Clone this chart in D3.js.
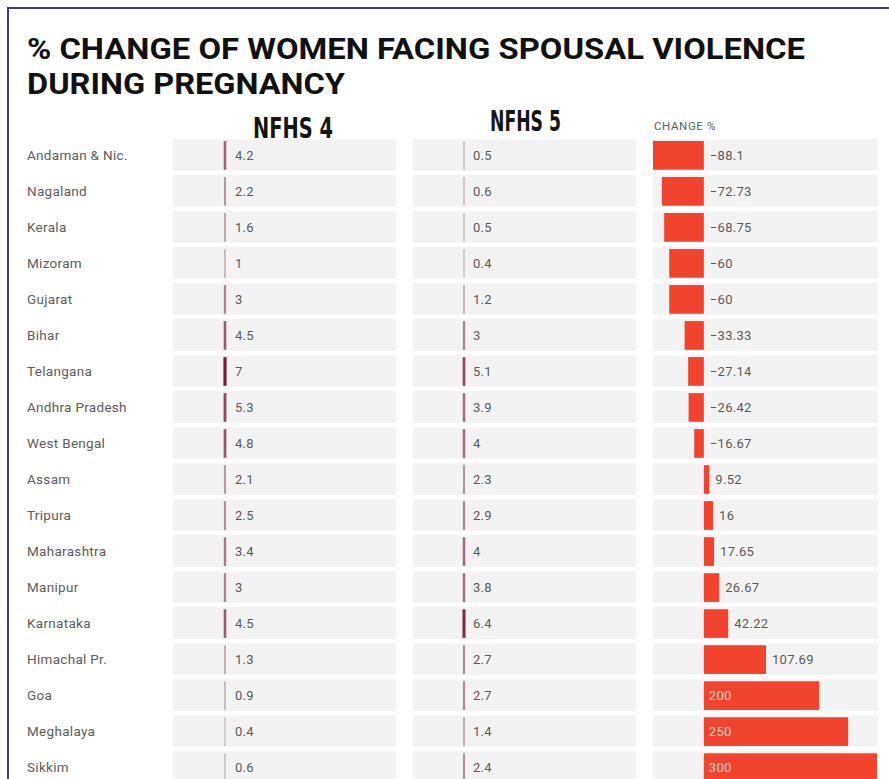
<!DOCTYPE html>
<html>
<head>
<meta charset="utf-8">
<script src="https://cdn.jsdelivr.net/npm/d3@7"></script>
<style>
  html, body { margin: 0; padding: 0; background: #fff; }
  svg { display: block; }
</style>
</head>
<body>
<div id="chart"></div>
<script>
// States ordered by change in spousal violence during pregnancy
const states = ["Andaman & Nic.", "Nagaland", "Kerala", "Mizoram", "Gujarat", "Bihar",
  "Telangana", "Andhra Pradesh", "West Bengal", "Assam", "Tripura", "Maharashtra",
  "Manipur", "Karnataka", "Himachal Pr.", "Goa", "Meghalaya", "Sikkim"];
const nfhs4 = [4.2, 2.2, 1.6, 1, 3, 4.5, 7, 5.3, 4.8, 2.1, 2.5, 3.4, 3, 4.5, 1.3, 0.9, 0.4, 0.6];
const nfhs5 = [0.5, 0.6, 0.5, 0.4, 1.2, 3, 5.1, 3.9, 4, 2.3, 2.9, 4, 3.8, 6.4, 2.7, 2.7, 1.4, 2.4];
const changePct = [-88.1, -72.73, -68.75, -60, -60, -33.33, -27.14, -26.42, -16.67,
  9.52, 16, 17.65, 26.67, 42.22, 107.69, 200, 250, 300];
const titleLines = ["% CHANGE OF WOMEN FACING SPOUSAL VIOLENCE", "DURING PREGNANCY"];
const columnHeads = ["NFHS 4", "NFHS 5", "CHANGE %"];

const W = 889, H = 779;
const rows = states.map((s, i) => ({ state: s, a: nfhs4[i], b: nfhs5[i], c: changePct[i] }));

const svg = d3.select("#chart").append("svg").attr("width", W).attr("height", H);

// frame
svg.append("rect").attr("x", 8).attr("y", 8).attr("width", W + 20).attr("height", H + 20)
  .attr("fill", "none").attr("stroke", "#3e3a7c").attr("stroke-width", 2);

// title
svg.selectAll("text.title").data(titleLines).join("text")
  .attr("class", "title")
  .attr("x", 27).attr("y", (d, i) => 59 + i * 35)
  .attr("font-family", "Roboto, 'Liberation Sans', sans-serif")
  .attr("font-weight", 700).attr("font-size", 30)
  .attr("fill", "#111")
  .attr("textLength", (d, i) => i === 0 ? 778 : 318)
  .attr("lengthAdjust", "spacingAndGlyphs")
  .text(d => d);

const y = d3.scaleBand().domain(states).range([139, 783]).paddingInner(0.12).paddingOuter(0);

// column geometry
const colA = { x0: 173, x1: 396, bar: 225, label: 235 };
const colB = { x0: 413, x1: 636, bar: 464, label: 473 };
const colC = { x0: 653, x1: 878 };

// header row
const heads = svg.append("g");
heads.append("text").attr("x", 253).attr("y", 138)
  .attr("font-family", "'DejaVu Sans Condensed', 'Roboto', sans-serif").attr("font-weight", 700)
  .attr("font-size", 28).attr("fill", "#151515")
  .attr("textLength", 80).attr("lengthAdjust", "spacingAndGlyphs").text(columnHeads[0]);
heads.append("text").attr("x", 490).attr("y", 131)
  .attr("font-family", "'DejaVu Sans Condensed', 'Roboto', sans-serif").attr("font-weight", 700)
  .attr("font-size", 28).attr("fill", "#151515")
  .attr("textLength", 71).attr("lengthAdjust", "spacingAndGlyphs").text(columnHeads[1]);
heads.append("text").attr("x", 654).attr("y", 130)
  .attr("font-family", "Roboto, sans-serif").attr("font-size", 11.5)
  .attr("fill", "#55605f").attr("letter-spacing", 0.6).text(columnHeads[2]);

// row background bands
[colA, colB, colC].forEach(col => {
  svg.append("g").selectAll("rect").data(rows).join("rect")
    .attr("x", col.x0).attr("width", col.x1 - col.x0)
    .attr("y", d => y(d.state)).attr("height", y.bandwidth())
    .attr("fill", "#f3f3f3");
});

// state names
svg.append("g").selectAll("text").data(rows).join("text")
  .attr("x", 27).attr("y", d => y(d.state) + y.bandwidth() / 2 + 5)
  .attr("font-family", "Roboto, sans-serif").attr("font-size", 13.5)
  .attr("letter-spacing", 0.3).attr("fill", "#5c5c5c")
  .text(d => d.state);

// NFHS value columns: thin bars shaded by value
const shade = d3.scaleLinear().domain([0, 7]).range(["#d6cdd0", "#7c1c3b"]);
const thick = d3.scaleLinear().domain([0, 7]).range([1.6, 3.2]);

function valueColumn(col, key) {
  const g = svg.append("g");
  g.selectAll("rect").data(rows).join("rect")
    .attr("x", d => col.bar - thick(d[key]) / 2)
    .attr("width", d => thick(d[key]))
    .attr("y", d => y(d.state) + 2).attr("height", y.bandwidth() - 3)
    .attr("fill", d => shade(d[key]));
  g.selectAll("text").data(rows).join("text")
    .attr("x", col.label).attr("y", d => y(d.state) + y.bandwidth() / 2 + 5)
    .attr("font-family", "Roboto, sans-serif").attr("font-size", 13)
    .attr("letter-spacing", 0.3).attr("fill", "#5a5a5a")
    .text(d => d[key]);
}
valueColumn(colA, "a");
valueColumn(colB, "b");

// change % column: diverging bars from zero
const x = d3.scaleLinear().domain([d3.min(changePct), d3.max(changePct)]).range([colC.x0, colC.x1 - 1]);
const gC = svg.append("g");
gC.selectAll("rect").data(rows).join("rect")
  .attr("x", d => Math.min(x(0), x(d.c)))
  .attr("width", d => Math.abs(x(d.c) - x(0)))
  .attr("y", d => y(d.state) + 2).attr("height", y.bandwidth() - 3)
  .attr("fill", "#f2432f");

const inside = d => d.c > 0 && x(d.c) - x(0) > 90;
gC.selectAll("text").data(rows).join("text")
  .attr("x", d => d.c < 0 ? x(0) + 6 : (inside(d) ? x(0) + 5 : x(d.c) + 6))
  .attr("y", d => y(d.state) + y.bandwidth() / 2 + 5)
  .attr("font-family", "Roboto, sans-serif").attr("font-size", 13)
  .attr("letter-spacing", 0.3)
  .attr("fill", d => inside(d) ? "#fcd3cc" : "#5a5a5a")
  .text(d => d.c < 0 ? "\u2212" + Math.abs(d.c) : d.c);
</script>
</body>
</html>
